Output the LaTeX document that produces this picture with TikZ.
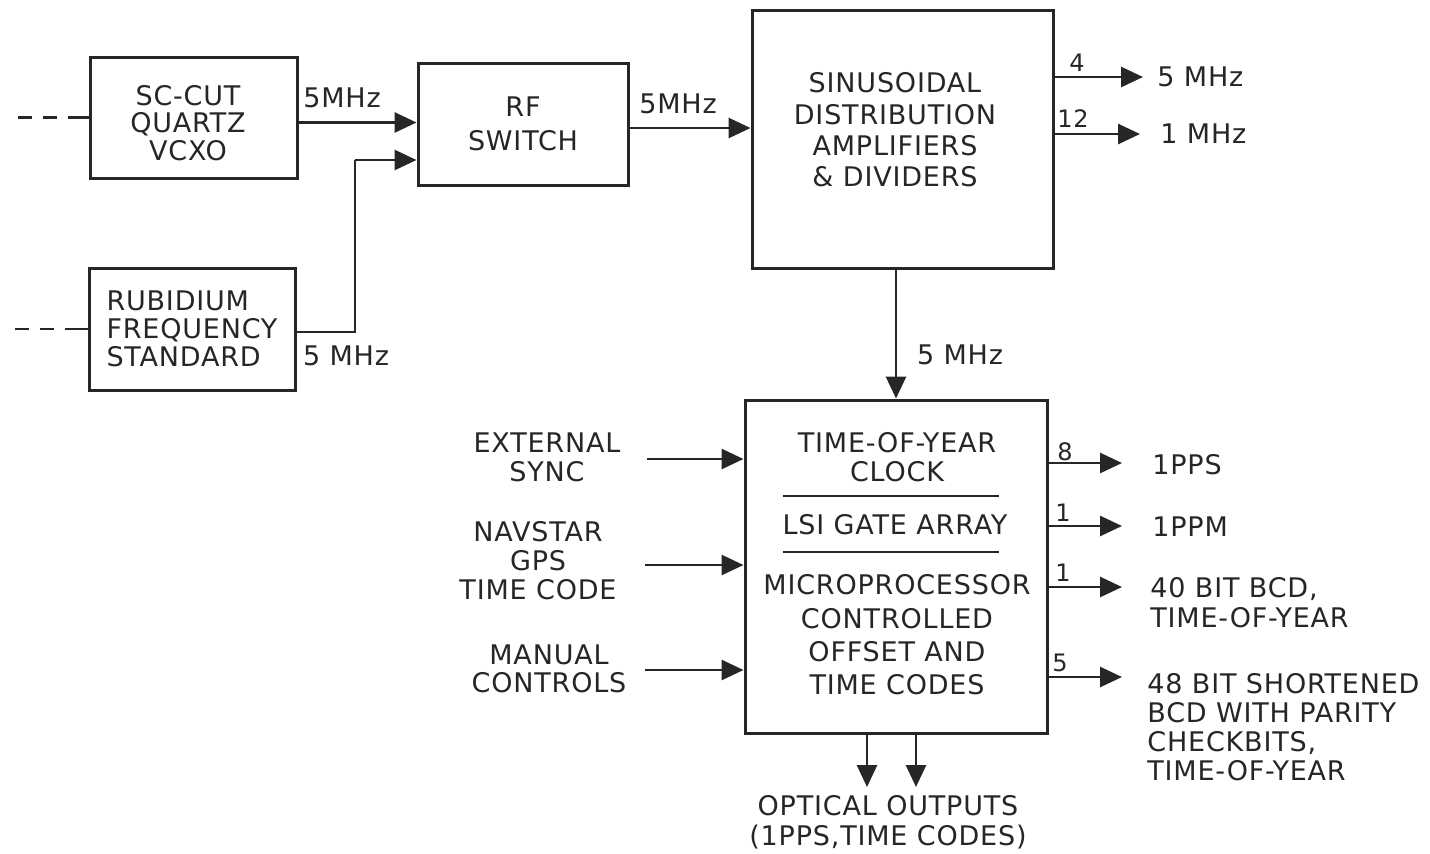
\documentclass[tikz,border=0pt]{standalone}
\usepackage{fontspec}
\setmainfont[LetterSpace=3]{DejaVu Sans}
\usetikzlibrary{arrows.meta}
\definecolor{ink}{gray}{0.15}
\begin{document}
\begin{tikzpicture}[x=0.5pt,y=-0.5pt,
  box/.style={draw=ink, line width=1.5pt, inner sep=0pt, align=center, text=ink,
              font=\fontsize{13.5}{14}\selectfont},
  txt/.style={font=\fontsize{13.5}{#1}\selectfont, text=ink, inner sep=0pt, align=center},
  txt/.default=14.5,
  num/.style={font=\fontsize{12}{13}\selectfont, text=ink, inner sep=0pt},
  wire/.style={draw=ink, line width=1.4pt},
  arr/.style={draw=ink, line width=1.4pt, -{Triangle[length=11pt,width=10pt]}},
  dsh/.style={draw=ink, line width=1.4pt, dash pattern=on 7pt off 5.5pt on 7pt off 5.5pt on 14pt}]
\useasboundingbox[fill=white] (0,0) rectangle (1430,853);

% ---- boxes
\node[box, minimum width=103.5pt, minimum height=60.5pt] (vcxo) at (193.5,117.5) {};
\node[txt=13.75] (vcxoT) at (188,123) {SC-CUT\\QUARTZ\\VCXO};
\node[box, align=left, minimum width=103pt, minimum height=61pt,
      font=\fontsize{13.5}{14}\selectfont] (rb) at (192,329)
  {RUBIDIUM\\FREQUENCY\\STANDARD};
\node[box, minimum width=105pt, minimum height=61pt,
      font=\fontsize{13.5}{17}\selectfont] (rf) at (523,124) {RF\\SWITCH};
\node[box, minimum width=150.5pt, minimum height=129pt] (big) at (902.5,139) {};
\node[txt=15.7] (bigT) at (895,130)
  {SINUSOIDAL\\DISTRIBUTION\\AMPLIFIERS\\\& DIVIDERS};
\node[box, minimum width=151pt, minimum height=166.5pt] (clock) at (896,566.5) {};
\node[txt=14.5] (clkA) at (897,457) {TIME-OF-YEAR\\CLOCK};
\node[txt] (clkB) at (895,525) {LSI GATE ARRAY};
\node[txt=16.7] (clkC) at (897,635) {MICROPROCESSOR\\CONTROLLED\\OFFSET AND\\TIME CODES};
\coordinate (s1a) at (783,496); \coordinate (s1b) at (999,496);
\coordinate (s2a) at (783,552); \coordinate (s2b) at (999,552);
\draw[wire] (s1a) -- (s1b);
\draw[wire] (s2a) -- (s2b);

% ---- dashed inputs
\coordinate (dv) at (18,117.5);
\coordinate (dr) at (15,329);
\draw[dsh] (dv) -- (vcxo.west);
\draw[dsh] (dr) -- (rb.west);

% ---- sources to RF switch
\coordinate (p1) at ([yshift=-2.5pt]vcxo.east);
\draw[arr] (p1) -- (p1 -| rf.west);
\node[txt] (l1) at (342,98) {5MHz};
\coordinate (p2) at ([yshift=-1.5pt]rb.east);
\coordinate (j) at (355,160);
\draw[wire] (p2) -| (j);
\draw[arr] (j) -- (j -| rf.west);
\node[txt] (l2) at (346,356) {5 MHz};

% ---- RF to distribution
\coordinate (p3) at ([yshift=-2pt]rf.east);
\draw[arr] (p3) -- (p3 -| big.west);
\node[txt] (l3) at (678,104) {5MHz};

% ---- distribution outputs
\coordinate (o1) at (1143,77);
\coordinate (o2) at (1140,134);
\draw[arr] (o1 -| big.east) -- (o1);
\draw[arr] (o2 -| big.east) -- (o2);
\node[num] (n4) at (1077,63) {4};
\node[num] (n12) at (1073,119) {12};
\node[txt, anchor=west] (f5) at (1157,77) {5 MHz};
\node[txt, anchor=west] (f1) at (1160,134) {1 MHz};

% ---- distribution to clock
\coordinate (p4) at ([xshift=-3.25pt]big.south);
\draw[arr] (p4) -- (p4 |- clock.north);
\node[txt] (l4) at (960,355) {5 MHz};

% ---- clock inputs
\coordinate (i1) at (647,459);
\coordinate (i2) at (645,565);
\coordinate (i3) at (645,670);
\draw[arr] (i1) -- (i1 -| clock.west);
\draw[arr] (i2) -- (i2 -| clock.west);
\draw[arr] (i3) -- (i3 -| clock.west);
\node[txt=14.5] (ext) at (547,457.5) {EXTERNAL\\SYNC};
\node[txt=14.5] (nav) at (538,561) {NAVSTAR\\GPS\\TIME CODE};
\node[txt=14] (man) at (549,669) {MANUAL\\CONTROLS};

% ---- clock outputs
\coordinate (c1) at (1122,463);
\coordinate (c2) at (1122,526);
\coordinate (c3) at (1122,587);
\coordinate (c4) at (1122,677);
\draw[arr] (c1 -| clock.east) -- (c1);
\draw[arr] (c2 -| clock.east) -- (c2);
\draw[arr] (c3 -| clock.east) -- (c3);
\draw[arr] (c4 -| clock.east) -- (c4);
\node[num] (n8) at (1065,452) {8};
\node[num] (n1a) at (1063,513) {1};
\node[num] (n1b) at (1063,573) {1};
\node[num] (n5) at (1060,663) {5};
\node[txt, anchor=west] (pps) at (1152,465) {1PPS};
\node[txt, anchor=west] (ppm) at (1152,527) {1PPM};
\node[txt=15, anchor=north west, align=left] (bcd40) at (1150,577)
  {40 BIT BCD,\\TIME-OF-YEAR};
\node[txt=14.5, anchor=north west, align=left] (bcd48) at (1147,673)
  {48 BIT SHORTENED\\BCD WITH PARITY\\CHECKBITS,\\TIME-OF-YEAR};

% ---- optical outputs
\coordinate (d1) at (867,787);
\coordinate (d2) at (916,787);
\draw[arr] (d1 |- clock.south) -- (d1);
\draw[arr] (d2 |- clock.south) -- (d2);
\node[txt=15] (opt) at (888,822) {OPTICAL OUTPUTS\\(1PPS,TIME CODES)};
\end{tikzpicture}
\end{document}
